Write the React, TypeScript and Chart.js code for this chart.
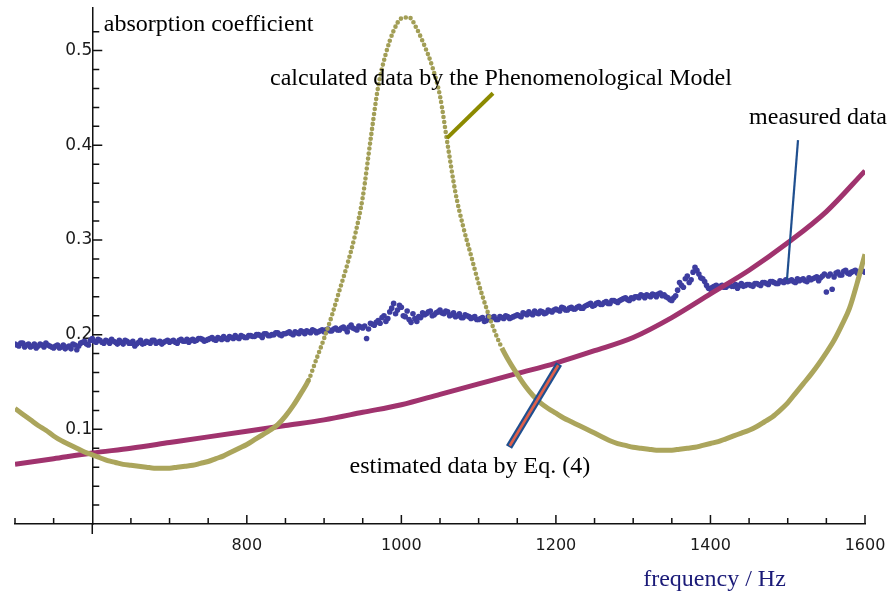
import { useEffect, useRef } from "react";
import { Chart, registerables } from "chart.js";

Chart.register(...registerables);

// ---------- data ----------
// measured data: sampled every 5 Hz starting at 500 Hz
const MEASURED_START = 500;
const MEASURED_STEP = 5;
const MEASURED_VALUES = [
  0.190, 0.188, 0.191, 0.189, 0.187, 0.190, 0.188, 0.189, 0.191, 0.188,
  0.186, 0.189, 0.187, 0.185, 0.188, 0.190, 0.184, 0.191, 0.193, 0.189,
  0.196, 0.192, 0.194, 0.191, 0.193, 0.195, 0.192, 0.194, 0.190, 0.193,
  0.191, 0.188, 0.192, 0.190, 0.193, 0.191, 0.194, 0.192, 0.190, 0.193,
  0.192, 0.194, 0.191, 0.195, 0.193, 0.192, 0.195, 0.194, 0.196, 0.193,
  0.195, 0.197, 0.194, 0.196, 0.198, 0.195, 0.197, 0.199, 0.196, 0.198,
  0.197, 0.199, 0.198, 0.200, 0.197, 0.201, 0.199, 0.200, 0.202, 0.199,
  0.201, 0.203, 0.200, 0.202, 0.204, 0.201, 0.203, 0.205, 0.202, 0.204,
  0.203, 0.206, 0.204, 0.207, 0.205, 0.208, 0.203, 0.210, 0.206, 0.209,
  0.207, 0.196, 0.212, 0.210, 0.215, 0.218, 0.214, 0.224, 0.233, 0.226,
  0.229, 0.219, 0.216, 0.222, 0.214, 0.218, 0.221, 0.224, 0.220, 0.223,
  0.226, 0.222, 0.224, 0.221, 0.219, 0.222, 0.218, 0.220, 0.217, 0.219,
  0.216, 0.218, 0.215, 0.217, 0.219, 0.216, 0.218, 0.220, 0.217, 0.219,
  0.221, 0.219, 0.222, 0.224, 0.221, 0.223, 0.225, 0.222, 0.226, 0.224,
  0.227, 0.225, 0.228, 0.226, 0.229, 0.227, 0.230, 0.228, 0.231, 0.233,
  0.231, 0.234, 0.232, 0.235, 0.233, 0.236, 0.234, 0.237, 0.239, 0.236,
  0.238, 0.240, 0.242, 0.239, 0.241, 0.243, 0.240, 0.244, 0.242, 0.239,
  0.236, 0.241, 0.255, 0.250, 0.262, 0.258, 0.271, 0.264, 0.259, 0.252,
  0.248, 0.251, 0.249, 0.252, 0.250, 0.253, 0.251, 0.249, 0.254, 0.252,
  0.253, 0.251, 0.254, 0.252, 0.255, 0.253, 0.256, 0.254, 0.257, 0.255,
  0.256, 0.258, 0.255, 0.257, 0.259, 0.256, 0.258, 0.260, 0.257, 0.262,
  0.245, 0.264, 0.261, 0.266, 0.263, 0.268, 0.264, 0.267, 0.265, 0.268,
  0.266,
];
// measured data in between: every 5 Hz starting at 502.5 Hz
const MEASURED_MID_START = 502.5;
const MEASURED_MID_VALUES = [
  0.189, 0.191, 0.187, 0.190, 0.188, 0.186, 0.190, 0.187, 0.189, 0.187,
  0.188, 0.186, 0.189, 0.187, 0.185, 0.189, 0.188, 0.192, 0.190, 0.194,
  0.193, 0.195, 0.192, 0.194, 0.191, 0.193, 0.190, 0.192, 0.194, 0.191,
  0.193, 0.190, 0.194, 0.191, 0.192, 0.194, 0.191, 0.193, 0.192, 0.194,
  0.193, 0.192, 0.194, 0.193, 0.195, 0.194, 0.193, 0.196, 0.195, 0.194,
  0.196, 0.195, 0.197, 0.195, 0.196, 0.198, 0.196, 0.197, 0.199, 0.197,
  0.199, 0.198, 0.200, 0.199, 0.201, 0.199, 0.200, 0.202, 0.200, 0.201,
  0.202, 0.201, 0.203, 0.201, 0.203, 0.204, 0.202, 0.204, 0.203, 0.205,
  0.205, 0.204, 0.206, 0.205, 0.207, 0.206, 0.208, 0.207, 0.205, 0.208,
  0.209, 0.206, 0.211, 0.213, 0.212, 0.220, 0.217, 0.228, 0.222, 0.231,
  0.220, 0.225, 0.213, 0.217, 0.219, 0.223, 0.222, 0.225, 0.221, 0.224,
  0.223, 0.225, 0.220, 0.223, 0.220, 0.218, 0.221, 0.219, 0.218, 0.216,
  0.217, 0.214, 0.219, 0.218, 0.216, 0.219, 0.217, 0.219, 0.218, 0.220,
  0.220, 0.223, 0.221, 0.222, 0.225, 0.222, 0.224, 0.223, 0.225, 0.226,
  0.226, 0.229, 0.226, 0.228, 0.227, 0.229, 0.228, 0.230, 0.232, 0.230,
  0.233, 0.232, 0.234, 0.233, 0.236, 0.235, 0.236, 0.238, 0.237, 0.239,
  0.240, 0.239, 0.241, 0.242, 0.240, 0.242, 0.243, 0.241, 0.240, 0.237,
  0.239, 0.247, 0.252, 0.259, 0.255, 0.266, 0.268, 0.260, 0.256, 0.249,
  0.250, 0.252, 0.251, 0.250, 0.252, 0.251, 0.253, 0.252, 0.251, 0.253,
  0.252, 0.254, 0.253, 0.255, 0.254, 0.256, 0.255, 0.254, 0.256, 0.258,
  0.257, 0.256, 0.259, 0.258, 0.257, 0.260, 0.259, 0.261, 0.260, 0.264,
  0.262, 0.248, 0.265, 0.263, 0.267, 0.265, 0.266, 0.268, 0.266, 0.267,
];

// calculated data (phenomenological model): every 10 Hz from 500 Hz
const CALC_START = 500;
const CALC_STEP = 10;
const CALC_VALUES = [
  0.122, 0.116, 0.110, 0.104, 0.099, 0.093, 0.088, 0.084, 0.080, 0.076,
  0.073, 0.070, 0.067, 0.065, 0.063, 0.062, 0.061, 0.060, 0.059, 0.059,
  0.059, 0.060, 0.061, 0.062, 0.064, 0.066, 0.069, 0.072, 0.076, 0.080,
  0.084, 0.089, 0.094, 0.099, 0.105, 0.114, 0.125, 0.138, 0.152, 0.174,
  0.196, 0.220, 0.247, 0.274, 0.305, 0.345, 0.405, 0.462, 0.497, 0.521,
  0.534, 0.535, 0.523, 0.505, 0.483, 0.452, 0.400, 0.350, 0.314, 0.284,
  0.254, 0.228, 0.205, 0.186, 0.171, 0.158, 0.146, 0.136, 0.128, 0.122,
  0.117, 0.112, 0.108, 0.104, 0.100, 0.096, 0.092, 0.088, 0.085, 0.083,
  0.081, 0.080, 0.079, 0.078, 0.078, 0.078, 0.079, 0.080, 0.081, 0.083,
  0.085, 0.087, 0.090, 0.093, 0.096, 0.099, 0.103, 0.108, 0.113, 0.120,
  0.128, 0.138, 0.148, 0.158, 0.169, 0.181, 0.194, 0.210, 0.228, 0.255,
  0.285,
];

// estimated data by Eq. (4): every 50 Hz from 500 Hz
const EST_START = 500;
const EST_STEP = 50;
const EST_VALUES = [
  0.063, 0.069, 0.075, 0.080, 0.086, 0.092, 0.098, 0.104, 0.110, 0.118,
  0.126, 0.137, 0.148, 0.159, 0.170, 0.183, 0.197, 0.218, 0.243, 0.268,
  0.297, 0.330, 0.373,
];

// axes
const X_MIN = 500;
const X_MAX = 1600;
const X_STEP = 50;
const X_LABEL_EVERY = 200;
const Y_MIN = 0;
const Y_MAX = 0.545;
const Y_STEP = 0.02;
const AXIS_CROSS_X = 600; // y axis sits at 600 Hz
const AXIS_CROSS_Y = 0;

// annotation texts (data coordinates of left/baseline)
const TEXTS = [
  { text: "absorption coefficient", f: 615, v: 0.521, color: "#000" },
  { text: "calculated data by the Phenomenological Model", f: 830, v: 0.4636, color: "#000" },
  { text: "measured data", f: 1450, v: 0.4224, color: "#000" },
  { text: "estimated data by Eq. (4)", f: 933, v: 0.0539, color: "#000" },
  { text: "frequency / Hz", f: 1313, v: -0.0655, color: "#1a1a78" },
];

// pointer lines (data coordinates)
const POINTERS = [
  { f0: 1118.6, v0: 0.455, f1: 1059, v1: 0.4076, kind: "olive" },
  { f0: 1513.3, v0: 0.4055, f1: 1499, v1: 0.2577, kind: "blue" },
  { f0: 1204, v0: 0.169, f1: 1139.3, v1: 0.0813, kind: "double" },
];

const series = (start: number, step: number, vals: number[]) =>
  vals.map((v, i) => ({ x: start + step * i, y: v }));

const axisTicksPlugin = {
  id: "axisTicks",
  beforeDatasetsDraw(chart: any) {
    const { ctx } = chart;
    const x = chart.scales.x;
    const y = chart.scales.y;
    const x0 = x.getPixelForValue(AXIS_CROSS_X);
    const y0 = y.getPixelForValue(AXIS_CROSS_Y);
    ctx.save();
    ctx.strokeStyle = "#111";
    ctx.lineWidth = 1.5;
    ctx.beginPath();
    x.ticks.forEach((t: any) => {
      const v = t.value;
      if (Math.abs(v - AXIS_CROSS_X) < 1e-6) return;
      if (Math.abs(v / X_STEP - Math.round(v / X_STEP)) > 1e-6) return;
      const major = Math.round(v) % X_LABEL_EVERY === 0;
      const px = x.getPixelForValue(v);
      ctx.moveTo(px, y0);
      ctx.lineTo(px, y0 - (major ? 9 : 6));
    });
    y.ticks.forEach((t: any) => {
      const v = t.value;
      const k = Math.round(v * 100);
      if (Math.abs(v * 100 - k) > 1e-6 || k === 0 || k % 2) return;
      const major = k % 10 === 0;
      const py = y.getPixelForValue(v);
      ctx.moveTo(x0, py);
      ctx.lineTo(x0 + (major ? 10 : 7), py);
    });
    ctx.moveTo(x0, y0);
    ctx.lineTo(x0, y0 + 10);
    ctx.stroke();
    ctx.restore();
  },
};

const annotationPlugin = {
  id: "annots",
  afterDatasetsDraw(chart: any) {
    const { ctx } = chart;
    const x = chart.scales.x;
    const y = chart.scales.y;
    ctx.save();
    POINTERS.forEach((p) => {
      const ax = x.getPixelForValue(p.f0);
      const ay = y.getPixelForValue(p.v0);
      const bx = x.getPixelForValue(p.f1);
      const by = y.getPixelForValue(p.v1);
      ctx.lineCap = "butt";
      if (p.kind === "olive") {
        ctx.strokeStyle = "#8c8a00";
        ctx.lineWidth = 4;
        ctx.beginPath();
        ctx.moveTo(ax, ay);
        ctx.lineTo(bx, by);
        ctx.stroke();
      } else if (p.kind === "blue") {
        ctx.strokeStyle = "#1f4f8f";
        ctx.lineWidth = 2.2;
        ctx.beginPath();
        ctx.moveTo(ax, ay);
        ctx.lineTo(bx, by);
        ctx.stroke();
      } else {
        ctx.strokeStyle = "#1f4f8f";
        ctx.lineWidth = 7;
        ctx.beginPath();
        ctx.moveTo(ax, ay);
        ctx.lineTo(bx, by);
        ctx.stroke();
        const dx = bx - ax;
        const dy = by - ay;
        const len = Math.hypot(dx, dy);
        const ux = dx / len;
        const uy = dy / len;
        ctx.strokeStyle = "#e0604a";
        ctx.lineWidth = 2.6;
        ctx.beginPath();
        ctx.moveTo(ax + ux * 1.5, ay + uy * 1.5);
        ctx.lineTo(bx - ux * 1.5, by - uy * 1.5);
        ctx.stroke();
      }
    });
    ctx.font = '24px "Liberation Serif", "Times New Roman", serif';
    ctx.textAlign = "left";
    ctx.textBaseline = "alphabetic";
    TEXTS.forEach((t) => {
      ctx.fillStyle = t.color;
      ctx.fillText(t.text, x.getPixelForValue(t.f), y.getPixelForValue(t.v));
    });
    ctx.restore();
  },
};

const noPad = (scale: any) => {
  scale.paddingTop = 0;
  scale.paddingBottom = 0;
  scale.paddingLeft = 0;
  scale.paddingRight = 0;
};

export default function App() {
  const canvasRef = useRef<HTMLCanvasElement | null>(null);

  useEffect(() => {
    if (!canvasRef.current) return;
    const beaded = (c: any) => {
      const dx = Math.abs(c.p1.x - c.p0.x) || 1e-6;
      const s = Math.abs(c.p1.y - c.p0.y) / dx;
      const top = c.chart.scales.y.getPixelForValue(0.3);
      const right = c.chart.scales.x.getPixelForValue(1500);
      if (c.p0.x > right) return false;
      return s > 2.2 || (c.p0.y < top && c.p1.y < top);
    };
    const measuredStyle = {
      showLine: false,
      pointRadius: 2.8,
      pointBorderWidth: 0,
      pointBackgroundColor: "#3d3da0",
      pointBorderColor: "#3d3da0",
      order: 2,
    };
    const chart = new Chart(canvasRef.current, {
      type: "scatter",
      data: {
        datasets: [
          {
            label: "calculated data by the Phenomenological Model",
            data: series(CALC_START, CALC_STEP, CALC_VALUES),
            showLine: true,
            borderColor: "#aba55c",
            borderWidth: 5,
            pointRadius: 0,
            cubicInterpolationMode: "monotone",
            order: 0,
            segment: {
              borderDash: (c: any) => (beaded(c) ? [0, 5] : undefined),
              borderWidth: (c: any) => (beaded(c) ? 4.6 : 5),
              borderCapStyle: (c: any) => (beaded(c) ? "round" : "butt"),
              borderColor: (c: any) => (beaded(c) ? "#a29e56" : "#aba55c"),
            },
          } as any,
          {
            label: "estimated data by Eq. (4)",
            data: series(EST_START, EST_STEP, EST_VALUES),
            showLine: true,
            borderColor: "#a0336e",
            borderWidth: 5,
            pointRadius: 0,
            cubicInterpolationMode: "monotone",
            order: 1,
          },
          {
            label: "measured data",
            data: series(MEASURED_START, MEASURED_STEP, MEASURED_VALUES),
            ...measuredStyle,
          },
          {
            label: "measured data (between)",
            data: series(MEASURED_MID_START, MEASURED_STEP, MEASURED_MID_VALUES),
            ...measuredStyle,
          },
        ],
      },
      options: {
        animation: false,
        responsive: true,
        maintainAspectRatio: false,
        layout: { autoPadding: false, padding: { left: 15, right: 22, top: 8, bottom: 68 } },
        plugins: {
          legend: { display: false },
          tooltip: { enabled: false },
          title: { display: false },
        },
        scales: {
          x: {
            type: "linear",
            min: X_MIN,
            max: X_MAX,
            position: { y: AXIS_CROSS_Y } as any,
            border: { display: true, color: "#111", width: 1.5 },
            grid: { display: true, drawOnChartArea: false, drawTicks: false },
            afterFit: noPad,
            ticks: {
              stepSize: X_STEP,
              autoSkip: false,
              maxRotation: 0,
              padding: 12,
              color: "#1a1a1a",
              font: { family: '"DejaVu Sans", sans-serif', size: 16 },
              callback: (v: any) => {
                const n = Number(v);
                return n % X_LABEL_EVERY === 0 && n !== AXIS_CROSS_X ? String(n) : "";
              },
            },
          },
          y: {
            type: "linear",
            min: Y_MIN,
            max: Y_MAX,
            position: { x: AXIS_CROSS_X } as any,
            border: { display: true, color: "#111", width: 1.5 },
            grid: { display: true, drawOnChartArea: false, drawTicks: false },
            afterFit: noPad,
            ticks: {
              stepSize: Y_STEP,
              autoSkip: false,
              padding: 10,
              color: "#1a1a1a",
              font: { family: '"DejaVu Sans", sans-serif', size: 17 },
              callback: (v: any) => {
                const n = Number(v);
                const k = Math.round(n * 100);
                return Math.abs(n * 100 - k) < 1e-6 && k > 0 && k % 10 === 0
                  ? (k / 100).toFixed(1)
                  : "";
              },
            },
          },
        },
      },
      plugins: [axisTicksPlugin, annotationPlugin],
    });
    return () => chart.destroy();
  }, []);

  return (
    <div style={{ position: "absolute", left: 0, top: 0, width: 887, height: 592, background: "#fff" }}>
      <canvas ref={canvasRef} />
    </div>
  );
}
